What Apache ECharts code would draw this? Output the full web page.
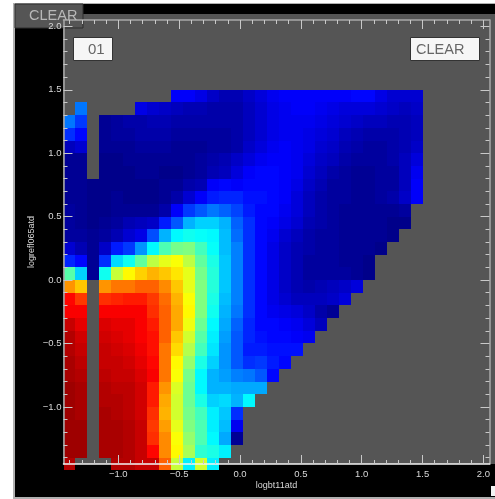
<!DOCTYPE html>
<html><head><meta charset="utf-8">
<script src="https://cdn.jsdelivr.net/npm/echarts@6/dist/echarts.min.js"></script>
<style>html,body{margin:0;padding:0;background:#fff}#c{width:495px;height:499px;filter:blur(0.4px)}</style>
</head><body><div id="c"></div>
<script>
const _ = null;
const xEdgeStart = -1.45, xCell = 2.95 / 30, yEdgeStart = 1.5, yCell = 0.1;
const axisMin = -1.45, axisMax = 2.05;
const majorTicks = [-1.0, -0.5, 0.0, 0.5, 1.0, 1.5, 2.0];
const minorTicks = [-1.4,-1.3,-1.2,-1.1,-0.9,-0.8,-0.7,-0.6,-0.4,-0.3,-0.2,-0.1,0.1,0.2,0.3,0.4,0.6,0.7,0.8,0.9,1.1,1.2,1.3,1.4,1.6,1.7,1.8,1.9];
const xName = 'logbt11atd', yName = 'logrefl065atd';
const panelLabel = 'CLEAR', boxLeft = '01', boxRight = 'CLEAR';
const palette = ['#000080','#0000ff','#0080ff','#00ffff','#80ff80','#ffff00','#ff8000','#ff0000','#800000'];
// Rows run top to bottom (y 1.5 down to -1.5), columns left to right; 0 = dark blue, 100 = dark red.
const grid = [
[_,_,_,_,_,_,_,_,_,12,12,10,7,5,5,7,9,11,12,12,12,12,12,12,13,13,10,8,8,8],
[_,24,_,_,_,_,10,8,7,6,5,5,4,4,4,6,8,10,11,12,12,11,10,9,9,9,8,7,6,7],
[24,18,_,2,3,4,4,5,5,4,4,4,4,4,4,6,8,10,11,11,11,10,9,8,7,6,6,5,5,6],
[17,13,_,2,3,3,4,4,4,3,3,3,3,3,4,6,8,10,11,11,10,9,8,6,5,4,4,4,5,6],
[6,8,_,2,2,2,3,3,3,2,2,2,3,3,4,7,9,11,12,11,10,8,7,5,4,3,3,4,5,7],
[2,2,_,1,1,2,2,2,2,2,2,3,4,5,7,9,11,12,12,11,9,7,6,4,3,3,3,4,6,9],
[2,2,_,1,1,1,2,2,1,1,2,3,5,6,9,12,13,13,12,11,8,6,4,3,2,2,3,3,6,11],
[2,2,1,1,1,1,1,1,2,2,4,5,12,13,12,13,13,13,12,10,7,5,3,3,2,2,3,3,6,12],
[2,2,1,1,2,1,1,1,2,4,8,12,15,16,16,14,14,13,12,9,6,4,3,3,2,2,3,4,7,12],
[3,2,1,1,2,2,2,2,4,12,18,21,24,22,19,15,13,13,11,9,6,4,3,2,2,2,2,2,3,_],
[3,2,1,2,3,5,6,7,15,21,30,33,33,30,22,17,13,12,10,8,5,4,3,2,2,2,2,1,1,_],
[3,3,2,3,5,8,10,20,30,37,39,38,37,31,23,17,13,11,8,6,4,3,3,2,2,2,2,1,_,_],
[8,5,2,7,15,18,27,37,45,49,50,44,38,31,25,17,13,10,7,5,4,3,3,2,2,2,1,_,_,_],
[16,13,2,17,34,39,47,56,60,62,56,47,40,32,25,17,13,10,7,5,3,3,3,2,2,1,_,_,_,_],
[46,33,2,39,57,63,67,70,68,65,60,49,41,32,25,17,13,10,7,5,3,3,3,3,2,1,_,_,_,_],
[73,68,_,73,76,76,78,78,74,68,60,50,41,32,25,17,13,10,7,5,4,5,6,7,9,_,_,_,_,_],
[87,82,_,83,84,85,85,82,77,70,62,50,40,31,25,17,13,10,8,6,6,6,7,9,_,_,_,_,_,_],
[88,88,_,88,88,88,88,83,78,71,63,50,39,30,24,17,13,11,10,9,7,4,2,_,_,_,_,_,_,_],
[93,90,_,91,90,90,88,85,78,71,61,48,37,29,22,16,13,13,12,11,9,6,_,_,_,_,_,_,_,_],
[95,92,_,92,91,90,88,86,78,68,58,46,36,28,21,16,14,13,13,12,11,_,_,_,_,_,_,_,_,_],
[95,93,_,93,92,91,89,86,76,66,55,44,35,27,21,15,15,14,14,14,_,_,_,_,_,_,_,_,_,_],
[96,94,_,93,93,92,90,87,76,63,52,40,33,27,21,17,18,15,13,_,_,_,_,_,_,_,_,_,_,_],
[96,95,_,94,93,93,91,88,76,62,49,37,30,28,25,24,21,13,_,_,_,_,_,_,_,_,_,_,_,_],
[97,96,_,95,94,94,92,85,73,59,48,37,30,30,29,29,29,_,_,_,_,_,_,_,_,_,_,_,_,_],
[97,96,_,95,95,94,92,85,71,58,48,40,33,34,30,37,_,_,_,_,_,_,_,_,_,_,_,_,_,_],
[97,96,_,96,95,94,92,83,70,58,49,44,36,32,17,_,_,_,_,_,_,_,_,_,_,_,_,_,_,_],
[97,97,_,96,96,95,93,82,72,60,50,45,36,31,11,_,_,_,_,_,_,_,_,_,_,_,_,_,_,_],
[97,97,_,96,96,95,93,83,74,62,52,45,37,29,2,_,_,_,_,_,_,_,_,_,_,_,_,_,_,_],
[97,97,_,96,96,95,93,87,74,63,54,42,40,36,_,_,_,_,_,_,_,_,_,_,_,_,_,_,_,_],
[95,_,_,_,95,95,93,93,78,57,36,58,36,_,_,_,_,_,_,_,_,_,_,_,_,_,_,_,_,_]
];
const cells = [];
grid.forEach((row, r) => row.forEach((v, c) => {
  if (v !== null) cells.push([xEdgeStart + c * xCell, yEdgeStart - r * yCell, v]);
}));
const fmt = v => v.toFixed(1).replace('-', '\u2212');
const font = 'Liberation Sans';
const chart = echarts.init(document.getElementById('c'), null, {renderer: 'canvas'});
function axis(dimPos, major, main, extra) {
  const isY = dimPos === 'left' || dimPos === 'right';
  return Object.assign({
    type: 'value', position: dimPos, min: axisMin, max: axisMax, z: 5,
    splitLine: {show: false},
    axisLine: {show: major, onZero: false, lineStyle: {color: dimPos === 'bottom' ? '#f4f4f4' : '#a8a8a8', width: 1.5}},
    axisTick: {show: true, inside: true, length: major ? 9 : 4,
      customValues: major ? majorTicks : minorTicks,
      lineStyle: {color: '#c8c8c8', width: 1}},
    axisLabel: main ? {show: true, color: '#d8d8d8', fontFamily: font, fontSize: 9.5, margin: isY ? 2 : 5,
      customValues: majorTicks, formatter: fmt} : {show: false}
  }, extra || {});
}
const option = {
  backgroundColor: '#ffffff',
  animation: false,
  grid: {left: 63.5, right: 5.5, top: 20, bottom: 35, containLabel: false},
  visualMap: {show: false, type: 'continuous', min: 0, max: 100, dimension: 2, seriesIndex: 0, inRange: {color: palette}},
  xAxis: [
    axis('bottom', true, true, {name: xName, nameLocation: 'middle', nameGap: 17, nameMoveOverlap: false, nameTextStyle: {color: '#d8d8d8', fontFamily: font, fontSize: 9}}),
    axis('bottom', false, false),
    axis('top', true, false),
    axis('top', false, false)
  ],
  yAxis: [
    axis('left', true, true, {name: yName, nameLocation: 'middle', nameGap: 27, nameRotate: 90, nameMoveOverlap: false, nameTextStyle: {color: '#d8d8d8', fontFamily: font, fontSize: 9}}),
    axis('left', false, false),
    axis('right', true, false),
    axis('right', false, false)
  ],
  series: [{
    type: 'custom', coordinateSystem: 'cartesian2d', xAxisIndex: 0, yAxisIndex: 0,
    clip: false, z: 2, silent: true, data: cells,
    renderItem: (params, api) => {
      const a = api.coord([api.value(0), api.value(1)]);
      const b = api.coord([api.value(0) + xCell, api.value(1) - yCell]);
      const x0 = Math.round(a[0]), y0 = Math.round(a[1]), x1 = Math.round(b[0]), y1 = Math.round(b[1]);
      return {type: 'rect', shape: {x: x0, y: y0, width: x1 - x0, height: y1 - y0}, style: {fill: api.visual('color')}};
    }
  }],
  graphic: [
    {type: 'rect', z: -10, silent: true, shape: {x: 13, y: 3, width: 482, height: 496}, style: {fill: '#b0b0b0'}},
    {type: 'rect', z: -9, silent: true, shape: {x: 15, y: 4, width: 480, height: 493}, style: {fill: '#000'}},
    {type: 'rect', z: -8, silent: true, shape: {x: 63, y: 14, width: 432, height: 450}, style: {fill: '#555555'}},
    {type: 'rect', z: 1, silent: true, shape: {x: 15, y: 4, width: 68, height: 24}, style: {fill: '#555555', stroke: '#2e2e2e', lineWidth: 1}},
    {type: 'text', z: 7, silent: true, x: 29, y: 8, style: {text: panelLabel, fill: '#b8b8b8', font: '14.5px "Liberation Sans"'}},
    {type: 'rect', z: 6, silent: true, shape: {x: 73.5, y: 37.5, width: 39, height: 23}, style: {fill: '#f6f6f6', stroke: '#333', lineWidth: 1}},
    {type: 'text', z: 7, silent: true, x: 88, y: 42, style: {text: boxLeft, fill: '#666', font: '15px "Liberation Sans"'}},
    {type: 'rect', z: 6, silent: true, shape: {x: 410.5, y: 37.5, width: 69, height: 23}, style: {fill: '#f6f6f6', stroke: '#333', lineWidth: 1}},
    {type: 'text', z: 7, silent: true, x: 416, y: 42, style: {text: boxRight, fill: '#666', font: '14.5px "Liberation Sans"'}},
    {type: 'rect', z: 6, silent: true, shape: {x: 491, y: 486, width: 4, height: 10}, style: {fill: '#f4f4f4'}}
  ]
};
chart.setOption(option);
</script></body></html>
